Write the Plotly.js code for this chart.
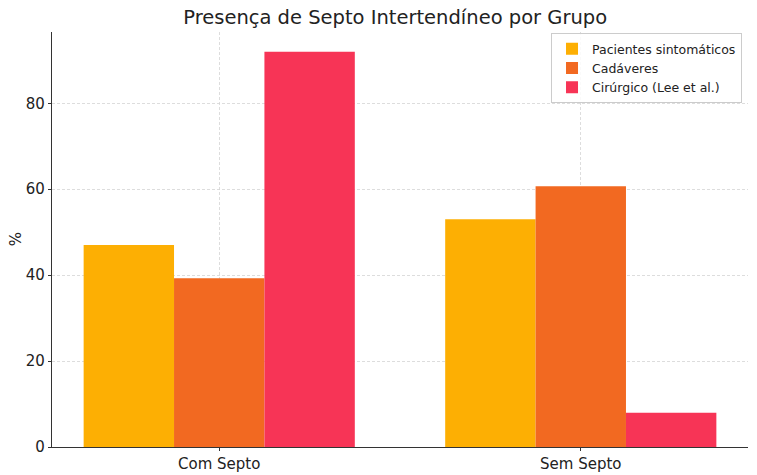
<!DOCTYPE html>
<html>
<head>
<meta charset="utf-8">
<script src="https://cdn.plot.ly/plotly-3.0.1.min.js"></script>
<style>html,body{margin:0;padding:0;background:#fff}#chart{width:757px;height:475px}</style>
</head>
<body>
<div id="chart"></div>
<script>
const categories = ["Com Septo", "Sem Septo"];
const seriesNames = ["Pacientes sintomáticos", "Cadáveres", "Cirúrgico (Lee et al.)"];
const pacientes = [47, 53];
const cadaveres = [39.3, 60.7];
const cirurgico = [92, 8];
const yTicks = [0, 20, 40, 60, 80];
const colors = ["#FDAF03", "#F26921", "#F73456"];

const values = [pacientes, cadaveres, cirurgico];
const traces = values.map((v, i) => ({
  type: "bar",
  x: categories,
  y: v,
  name: seriesNames[i],
  marker: {color: colors[i], line: {width: 0}},
  hoverinfo: "none"
}));

const font = "DejaVu Sans, sans-serif";
const layout = {
  width: 757, height: 475,
  margin: {l: 52, r: 9, t: 32, b: 28},
  paper_bgcolor: "#fff", plot_bgcolor: "#fff",
  barmode: "group", bargap: 0.25, bargroupgap: 0,
  font: {family: font, color: "#222", size: 15},
  title: {text: "Presença de Septo Intertendíneo por Grupo", font: {family: font, size: 19.5, color: "#222"}, x: 0.522, xanchor: "center", y: 0.978, yanchor: "top"},
  xaxis: {
    type: "category", range: [-0.4625, 1.4625],
    showline: true, linecolor: "#333", linewidth: 1.2,
    ticks: "outside", ticklen: 3, tickcolor: "#333",
    showgrid: true, gridcolor: "#d4d4d4", griddash: "3px,2px", gridwidth: 0.8,
    tickfont: {size: 15, family: font, color: "#222"},
    zeroline: false, mirror: false
  },
  yaxis: {
    range: [0, 96.6], tickvals: yTicks,
    showline: true, linecolor: "#333", linewidth: 1.2,
    ticks: "outside", ticklen: 3, tickcolor: "#333",
    showgrid: true, gridcolor: "#d4d4d4", griddash: "3px,2px", gridwidth: 0.8,
    tickfont: {size: 15, family: font, color: "#222"},
    zeroline: false
  },
  annotations: [{
    text: "%", xref: "paper", yref: "paper", x: -0.052, y: 0.5,
    xanchor: "center", yanchor: "middle", textangle: -90, showarrow: false,
    font: {size: 15, family: font, color: "#222"}
  }],
  legend: {
    x: 0.9914, xanchor: "right", y: 0.997, yanchor: "top",
    bgcolor: "rgba(255,255,255,0.85)", bordercolor: "#ccc", borderwidth: 1,
    font: {size: 12.5, family: font, color: "#222"},
    tracegroupgap: 0, itemwidth: 30
  },
  showlegend: true
};

Plotly.newPlot("chart", traces, layout, {displayModeBar: false, staticPlot: true});
</script>
</body>
</html>
